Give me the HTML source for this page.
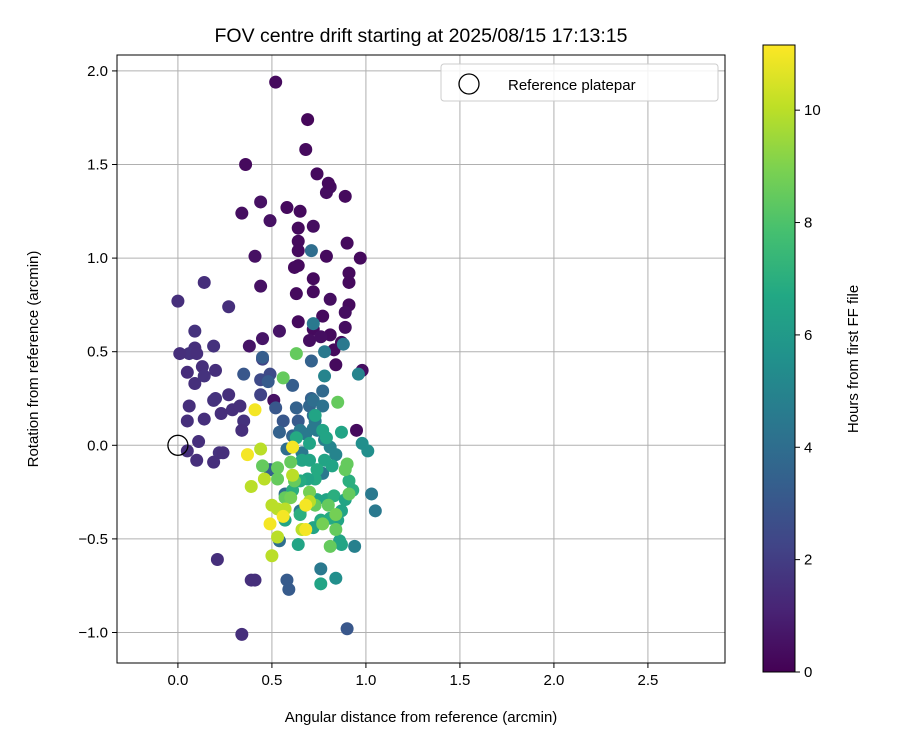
<!DOCTYPE html>
<html><head><meta charset="utf-8"><style>
html,body{margin:0;padding:0;background:#fff;}
svg{display:block;font-family:"Liberation Sans","DejaVu Sans",sans-serif;}
</style></head><body>
<svg id="chart" width="900" height="750" viewBox="0 0 900 750">
<defs>
<linearGradient id="vir" x1="0" y1="1" x2="0" y2="0">
<stop offset="0" stop-color="#440154"/><stop offset="0.1" stop-color="#482475"/><stop offset="0.2" stop-color="#414487"/><stop offset="0.3" stop-color="#355f8d"/><stop offset="0.4" stop-color="#2a788e"/><stop offset="0.5" stop-color="#21918c"/><stop offset="0.6" stop-color="#22a884"/><stop offset="0.7" stop-color="#44bf70"/><stop offset="0.8" stop-color="#7ad151"/><stop offset="0.9" stop-color="#bddf26"/><stop offset="1" stop-color="#fde725"/>
</linearGradient>
</defs>
<text x="421" y="42" font-size="19.5" text-anchor="middle">FOV centre drift starting at 2025/08/15 17:13:15</text>
<g id="grid"></g>
<g id="points"></g>
<rect x="117" y="55" width="608" height="608" fill="none" stroke="#000" stroke-width="1"/>
<g id="xticks"></g>
<g id="yticks"></g>
<text x="421" y="722" font-size="15" text-anchor="middle">Angular distance from reference (arcmin)</text>
<text transform="translate(38,359) rotate(-90)" font-size="15" text-anchor="middle">Rotation from reference (arcmin)</text>
<g>
<rect x="441" y="64" width="277" height="37" rx="3" fill="#fff" fill-opacity="0.85" stroke="#ccc"/>
<circle cx="469" cy="84" r="10" fill="none" stroke="#000" stroke-width="1.3"/>
<text x="508" y="90" font-size="15">Reference platepar</text>
</g>
<rect x="763" y="45" width="32" height="627" fill="url(#vir)" stroke="#000" stroke-width="1"/>
<g id="cticks"></g>
<text transform="translate(858,359) rotate(-90)" font-size="15" text-anchor="middle">Hours from first FF file</text>
</svg>
<script>
const xTicks=[0,0.5,1,1.5,2,2.5];
const yTicks=[-1,-0.5,0,0.5,1,1.5,2];
const cTicks=[0,2,4,6,8,10];
const xs=[.52,.69,.68,.74,.36,.81,.79,.80,.89,.44,.58,.65,.34,.72,.64,.49,.64,.90,.41,.64,.79,.64,.72,.97,.62,.91,.91,.63,.72,.81,.91,.44,.89,.77,.64,.72,.54,.89,.81,.87,.83,.45,.38,.70,.76,.98,.84,.95,.51,
0,.14,.09,.27,.09,.06,.01,.10,.19,.05,.13,.09,.14,.20,.06,.20,.27,.29,.19,.23,.33,.35,.05,.14,.05,.10,.22,.19,.24,.11,.34,.44,.44,.49,.45,.21,.39,.41,.34,
.35,.45,.48,.52,.61,.71,.63,.70,.72,.56,.64,.71,.77,.72,.77,.78,.71,.72,.78,.73,.88,.96,.98,1.01,1.03,1.05,.94,.90,.54,.61,.49,.58,.62,.65,.68,.74,.78,.81,.84,.66,.58,.59,.76,.84,.57,.65,.54,.77,.72,
.63,.73,.77,.79,.70,.63,.70,.78,.74,.82,.73,.69,.79,.76,.83,.85,.87,.93,.89,.91,.87,.74,.81,.87,.76,.86,.65,.72,.64,.61,.57,.65,.66,
.56,.85,.60,.53,.62,.70,.73,.80,.84,.84,.81,.77,.90,.89,.91,.45,.57,.53,.60,
.46,.53,.50,.53,.50,.61,.57,.70,.66,.39,.44,
.41,.37,.49,.56,.68,.68,.61];
const ys=[1.94,1.74,1.58,1.45,1.50,1.38,1.35,1.40,1.33,1.30,1.27,1.25,1.24,1.17,1.16,1.20,1.09,1.08,1.01,1.04,1.01,.96,.89,1.00,.95,.92,.87,.81,.82,.78,.75,.85,.71,.69,.66,.62,.61,.63,.59,.55,.51,.57,.53,.56,.58,.40,.43,.08,.24,
.77,.87,.61,.74,.52,.49,.49,.49,.53,.39,.42,.33,.37,.40,.21,.25,.27,.19,.24,.17,.21,.13,.13,.14,-.03,-.08,-.04,-.09,-.04,.02,.08,.27,.35,.38,.46,-.61,-.72,-.72,-1.01,
.38,.47,.34,.20,.32,.45,.20,.21,.16,.13,.13,.25,.29,.24,.21,.50,1.04,.65,.37,.13,.54,.38,.01,-.03,-.26,-.35,-.54,-.98,.07,.05,-.13,-.02,.04,.08,.06,.08,.03,-.01,-.05,-.04,-.72,-.77,-.66,-.71,-.26,-.35,-.51,-.15,.09,
.49,.16,.08,.04,.01,.04,-.08,-.08,-.13,-.11,-.18,-.18,-.29,-.40,-.27,-.40,-.35,-.24,-.29,-.19,.07,-.29,-.39,-.53,-.74,-.51,-.37,-.44,-.53,-.24,-.40,-.19,-.08,
.36,.23,-.09,-.12,-.19,-.25,-.32,-.32,-.37,-.45,-.54,-.42,-.10,-.13,-.26,-.11,-.28,-.18,-.28,
-.18,-.34,-.32,-.49,-.59,-.16,-.34,-.30,-.45,-.22,-.02,
.19,-.05,-.42,-.38,-.32,-.45,-.01];
const hours=[.3,.2,.3,.3,.3,.4,.4,.3,.3,.5,.3,.3,.4,.4,.3,.5,.3,.3,.5,.3,.3,.3,.3,.3,.3,.3,.3,.3,.3,.4,.3,.5,.4,.3,.3,.3,.6,.4,.3,.3,.3,.6,.6,.4,.4,.4,.3,.3,.5,
1.5,1.5,1.6,1.5,1.5,1.6,1.5,1.5,1.6,1.4,1.5,1.5,1.6,1.5,1.5,1.6,1.5,1.5,1.6,1.5,1.5,1.6,1.5,1.5,1.5,1.5,1.6,1.5,1.5,1.5,1.5,2.2,2.5,2.5,2.2,1.5,1.5,1.5,1.5,
3,3.3,3.2,3,3.3,3.5,3.5,3.7,4,3,3.2,3.5,3.8,4,4.2,4.5,4,4.5,5,4.5,4.5,5,5.5,5.5,4.5,4.5,4.8,3,3.5,3.5,3.5,4,4,4.5,4.5,4.5,4.8,5,5,4.5,3.2,3.2,4.5,5.5,4,4.5,4,4.5,4.5,
8.5,6.5,6.5,6.5,6.5,6.8,6.5,6.5,6.8,6.5,6.8,6.5,6.5,6.8,7,6.5,6.5,7,6.5,7,6.5,6.5,6.8,6.5,6.5,6.5,7,6.5,6.5,7,6.5,6.8,6.5,
8.5,8.5,8.5,8.5,8.5,8.8,8.5,8.5,8.8,8.5,8.5,8.8,8.5,8.5,8.5,8.5,8.5,8.5,8.8,
10,10,10,10,10,10,10,10,10,10,10,
11,11,11,11,11,11,11];

const NS='http://www.w3.org/2000/svg';
const X0=117,X1=725,Y0=55,Y1=663;
const xmin=-0.324,xmax=2.91,ymin=-1.163,ymax=2.085,cmax=11.16;
const sx=v=>X0+(v-xmin)/(xmax-xmin)*(X1-X0);
const sy=v=>Y1-(v-ymin)/(ymax-ymin)*(Y1-Y0);
const sc=v=>672-v/cmax*627;
const vir=[[68,1,84],[72,36,117],[65,68,135],[53,95,141],[42,120,142],[33,145,140],[34,168,132],[68,191,112],[122,209,81],[189,223,38],[253,231,37]];
function color(h){let t=Math.max(0,Math.min(1,h/cmax))*10;let i=Math.min(9,Math.floor(t)),f=t-i;const a=vir[i],b=vir[i+1];return 'rgb('+a.map((c,k)=>Math.round(c+(b[k]-c)*f)).join(',')+')';}
function mk(tag,attrs,parent){const e=document.createElementNS(NS,tag);for(const k in attrs)e.setAttribute(k,attrs[k]);parent.appendChild(e);return e;}
const fmt=v=>(v<0?'\u2212':'')+Math.abs(v).toFixed(1);
const grid=document.getElementById('grid'),xt=document.getElementById('xticks'),yt=document.getElementById('yticks'),ct=document.getElementById('cticks'),pts=document.getElementById('points');
xTicks.forEach(v=>{const x=sx(v);
const g=mk('line',{x1:x,x2:x,y1:Y0,y2:Y1,stroke:'#b0b0b0','stroke-width':1},grid);


const t=mk('line',{x1:x,x2:x,y1:Y1,y2:Y1+5,stroke:'#000'},xt);


const l=mk('text',{x:x,y:Y1+22,'font-size':15,'text-anchor':'middle'},xt);l.textContent=fmt(v);

});
yTicks.forEach(v=>{const y=sy(v);
const g=mk('line',{x1:X0,x2:X1,y1:y,y2:y,stroke:'#b0b0b0','stroke-width':1},grid);


const t=mk('line',{x1:X0-5,x2:X0,y1:y,y2:y,stroke:'#000'},yt);


const l=mk('text',{x:X0-9,y:y+5,'font-size':15,'text-anchor':'end'},yt);l.textContent=fmt(v);

});
cTicks.forEach(v=>{const y=sc(v);
const t=mk('line',{x1:795,x2:800,y1:y,y2:y,stroke:'#000'},ct);


const l=mk('text',{x:804,y:y+5,'font-size':15},ct);l.textContent=v;

});
for(let i=0;i<xs.length;i++){
const c=mk('circle',{cx:sx(xs[i]),cy:sy(ys[i]),r:6.5,fill:color(hours[i])},pts);

}
const ref=mk('circle',{cx:sx(0),cy:sy(0),r:10,fill:'none',stroke:'#000','stroke-width':1.3},pts);


</script>
</body></html>
